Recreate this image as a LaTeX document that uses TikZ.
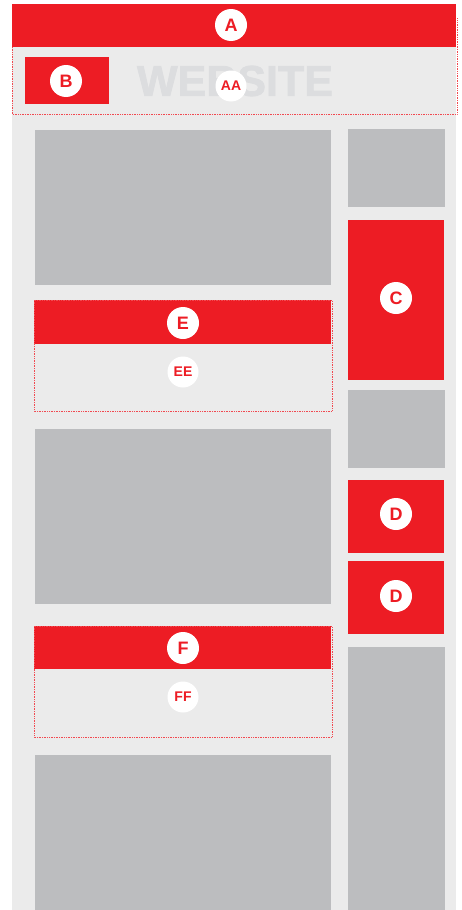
\documentclass[tikz,border=0pt]{standalone}
\usepackage{fontspec}
\setmainfont{Liberation Sans}
\newfontfamily\heavyfont{Liberation Sans Bold}[FakeBold=1.6]
\definecolor{webred}{HTML}{ED1C24}
\definecolor{pagegray}{HTML}{EBEBEB}
\definecolor{boxgray}{HTML}{BCBDBF}
\definecolor{markgray}{HTML}{DCDDDF}
\tikzset{
	tag/.style={circle,fill=white,text=webred,inner sep=0pt,minimum size=32pt,
		font=\bfseries\fontsize{18}{18}\selectfont},
	smalltag/.style={tag,minimum size=31pt,font=\bfseries\fontsize{14}{14}\selectfont},
	zone/.style={webred!80,densely dotted,line width=0.7pt}
}

\begin{document}
\begin{tikzpicture}[x=1pt,y=-1pt]
				\useasboundingbox (0,0) rectangle (462,910);
				\fill[pagegray] (12,47) rectangle (456,910);
				\fill[webred] (12,4) rectangle (456,47);
				\draw[zone] (12,47) -- (12,114) -- (457,114) -- (457,18);
				\node[font=\heavyfont\fontsize{43}{43}\selectfont,text=markgray] (site) at (235,81) {WEBSITE};
				\fill[webred] (25,57) rectangle (109,104);
				\foreach \t/\b in {130/285,429/604,755/910}
				\fill[boxgray] (35,\t) rectangle (331,\b);
				\foreach \t/\b in {129/207,390/468,647/910}
				\fill[boxgray] (348,\t) rectangle (445,\b);
				\fill[webred] (348,220) rectangle (444,380);
				\fill[webred] (348,480) rectangle (444,553);
				\fill[webred] (348,561) rectangle (444,634);
				\fill[webred] (34,300) rectangle (331,344);
				\draw[zone] (34,300) rectangle (332,411);
				\fill[webred] (34,626) rectangle (331,669);
				\draw[zone] (34,626) rectangle (332,737);
				\node[tag] (a) at (231,25) {A};
				\node[tag] (b) at (66,81) {B};
				\node[smalltag] (aa) at (231,86) {AA};
				\node[tag] (c) at (396,298) {C};
				\node[tag] (d1) at (396,514) {D};
				\node[tag] (d2) at (396,596) {D};
				\node[tag] (e) at (183,323) {E};
				\node[smalltag] (ee) at (183,372) {EE};
				\node[tag] (f) at (183,648) {F};
				\node[smalltag] (ff) at (183,697) {FF};
			\end{tikzpicture}
\end{document}
